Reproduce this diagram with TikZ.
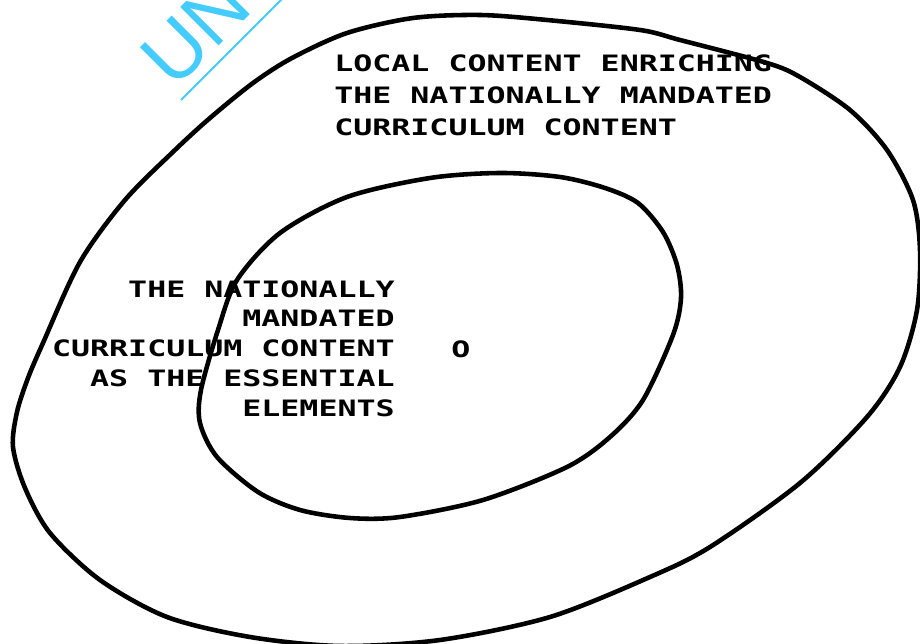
\documentclass[tikz,border=0pt]{standalone}
\usepackage{fontspec}
\newfontfamily\plotfont[FakeStretch=1.4]{DejaVu Sans Mono}
\newfontfamily\stampfont{Liberation Sans}
\definecolor{ink}{HTML}{000000}
\definecolor{stamp}{HTML}{45CCFF}

\begin{document}
\begin{tikzpicture}[
    x=0.02cm, y=-0.02cm,
    loopline/.style={draw=ink, line width=2.6pt, line join=round},
    plottext/.style={inner sep=0pt, text=ink,
        font=\plotfont\bfseries\fontsize{12.85pt}{#1}\selectfont},
    plottext/.default={18.4pt},
]
\useasboundingbox (0,0) rectangle (920,644);
\clip (0,0) rectangle (920,644);

% ============================================================ the stamp
\node[inner sep=0pt, rotate=45, anchor=base west, text=stamp,
    font=\stampfont\fontsize{45pt}{45pt}\selectfont] (stampword) at (174,91) {UN};
\draw[stamp, line width=1.15pt] (181,100) -- (300,-19);

% ============================================================ the outer ring
\draw[loopline] plot[smooth cycle] coordinates {
    (13,447) (17,412) (28,378) (43,343) (80,262) (125,200) (175,150)
    (210,118) (253,83) (292,58) (347,33) (413,18) (480,15) (547,20)
    (640,30) (680,40) (767,63) (800,77) (850,110) (887,150) (913,200)
    (920,250) (917,310) (900,367) (867,417) (800,483) (710,547)
    (650,577) (550,617) (440,640) (340,646) (250,637) (167,617)
    (100,580) (50,533) (25,488)};

% ============================================================ the inner ring
\draw[loopline] plot[smooth cycle] coordinates {
    (237,280) (280,233) (347,197) (430,178) (500,173) (560,177)
    (605,188) (638,203) (663,232) (677,265) (681,298) (673,335)
    (643,400) (610,437) (567,467) (483,500) (400,517) (350,518)
    (300,510) (258,492) (217,457) (200,423) (201,390) (218,330)};

% ============================================================ the texts
\node[plottext=18.4pt, anchor=north west, align=left] (localtext) at (334,54)
    {LOCAL CONTENT ENRICHING\\THE NATIONALLY MANDATED\\CURRICULUM CONTENT};
\node[plottext=17pt, anchor=north east, align=right] (coretext) at (395,280)
    {THE NATIONALLY\\MANDATED\\CURRICULUM CONTENT\\AS THE ESSENTIAL\\ELEMENTS};
\node[plottext, anchor=base west] (coremark) at (451,358) {O};

\end{tikzpicture}
\end{document}
